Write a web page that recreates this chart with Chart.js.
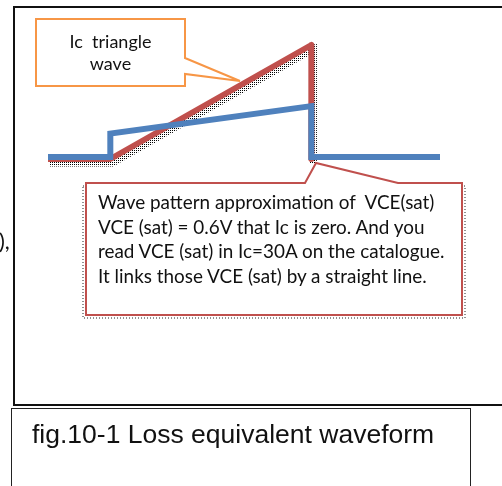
<!DOCTYPE html>
<html lang="en">
<head>
<meta charset="UTF-8">
<title>fig.10-1 Loss equivalent waveform</title>
<script src="https://cdn.jsdelivr.net/npm/chart.js"></script>
<style>
  body { margin: 0; background: #fff; }
  .stage { position: relative; width: 502px; height: 486px; overflow: hidden; font-family: Lato, sans-serif; color: #111; }
  #wave { position: absolute; left: 0; top: 0; }
  .frame { position: absolute; left: 13px; top: 6px; width: 520px; height: 400px; border: 2px solid #111; box-sizing: border-box; }
  .callouts { position: absolute; left: 0; top: 0; }
  .note { position: absolute; white-space: pre; }
  .ic-note { left: 36px; top: 30px; width: 149px; text-align: center; font-size: 18px; line-height: 22px; }
  .vce-note { left: 98px; top: 190px; font-size: 18.9px; line-height: 24.7px; }
  .stray { left: -1px; top: 228px; font-size: 22px; line-height: 26px; }
  .caption { position: absolute; left: 11px; top: 408px; width: 460px; height: 100px; border: 1.5px solid #222; box-sizing: border-box; }
  .caption span { position: absolute; left: 20px; top: 12px; font-family: "Liberation Sans", Arial, sans-serif; font-size: 26.5px; line-height: 26.5px; white-space: nowrap; }
</style>
</head>
<body>
<div class="stage">
  <div class="frame"></div>
  <canvas id="wave" width="502" height="486"></canvas>
  <svg class="callouts" width="502" height="486">
    <!-- dotted shadow behind the VCE(sat) note -->
    <rect x="83" y="186" width="382" height="132" fill="none" stroke="#222" stroke-width="1" stroke-dasharray="1 2"/>
    <polygon points="86,183 305,183 316,163 398,183 462,183 462,315 86,315" fill="#fff" stroke="#C0504D" stroke-width="2"/>
    <polygon points="36,19 185,19 185,58 240,81 185,74 185,86 36,86" fill="#fff" stroke="#F79646" stroke-width="2"/>
  </svg>
  <div class="note ic-note">Ic  triangle
wave</div>
  <div class="note vce-note">Wave pattern approximation of  VCE(sat)
VCE (sat) = 0.6V that Ic is zero. And you
read VCE (sat) in Ic=30A on the catalogue.
It links those VCE (sat) by a straight line.</div>
  <div class="note stray">),</div>
  <div class="caption"><span>fig.10-1 Loss equivalent waveform</span></div>
</div>

<script>
// time axis (arbitrary units): switch on at 0, switch off at 10
const icTime  = [-3.1, 0, 10, 10];
const icAmps  = [0, 0, 30, 0];          // Ic triangle wave, peak 30A
const vceTime = [-3.1, 0, 0, 10, 10, 16.4];
const vceVolt = [0, 0, 0.6, 1.3, 0, 0]; // VCE(sat): 0.6V at Ic=0, catalogue value at 30A

const toPoints = (xs, ys) => xs.map((x, i) => ({ x: x, y: ys[i] }));

// dotted shadow under the Ic line
function dotPattern(ctx) {
    const c = document.createElement('canvas');
    c.width = 2; c.height = 2;
    const p = c.getContext('2d');
    p.fillStyle = '#000';
    p.fillRect(0, 0, 1, 1);
    return ctx.createPattern(c, 'repeat');
}

const icShadow = {
    id: 'icShadow',
    beforeDatasetsDraw(chart) {
        const pts = chart.getDatasetMeta(1).data;
        const ctx = chart.ctx;
        ctx.save();
        ctx.translate(2, 4);
        ctx.beginPath();
        pts.forEach((pt, i) => i ? ctx.lineTo(pt.x, pt.y) : ctx.moveTo(pt.x, pt.y));
        ctx.strokeStyle = dotPattern(ctx);
        ctx.lineWidth = 7;
        ctx.lineJoin = 'miter';
        ctx.stroke();
        ctx.restore();
    }
};

new Chart(document.getElementById('wave'), {
    type: 'line',
    data: {
        datasets: [{
            label: 'VCE(sat)',
            data: toPoints(vceTime, vceVolt),
            yAxisID: 'yVce',
            borderColor: '#4F81BD',
            borderWidth: 6,
            borderJoinStyle: 'miter',
            pointRadius: 0,
            tension: 0,
            clip: false
        }, {
            label: 'Ic',
            data: toPoints(icTime, icAmps),
            yAxisID: 'yIc',
            borderColor: '#C0504D',
            borderWidth: 6,
            borderJoinStyle: 'round',
            pointRadius: 0,
            tension: 0,
            clip: false
        }]
    },
    options: {
        responsive: false,
        animation: false,
        layout: { padding: { left: 48, right: 62, top: 45, bottom: 327 } },
        plugins: { legend: { display: false }, tooltip: { enabled: false } },
        scales: {
            x: { type: 'linear', min: -3.1, max: 16.4, display: false },
            yIc: { type: 'linear', min: 0, max: 30, display: false },
            yVce: { type: 'linear', min: -0.05, max: 2.86, display: false }
        }
    },
    plugins: [icShadow]
});
</script>
</body>
</html>
